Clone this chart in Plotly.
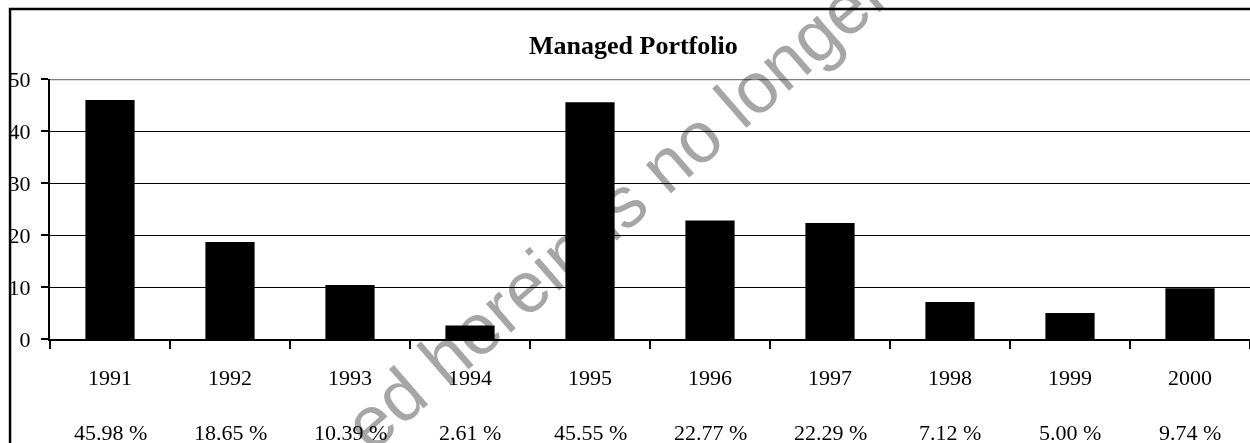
import plotly.graph_objects as go

# ---- data ----
years = ["1991", "1992", "1993", "1994", "1995", "1996", "1997", "1998", "1999", "2000"]
returns = [45.98, 18.65, 10.39, 2.61, 45.55, 22.77, 22.29, 7.12, 5.00, 9.74]
y_ticks = [0, 10, 20, 30, 40, 50]
title_text = "Managed Portfolio"
watermark_text = "ed herein is no longer"

pct_labels = [f"{v:.2f} %" for v in returns]

SERIF = "Liberation Serif, Times New Roman, serif"

fig = go.Figure(
    go.Bar(
        x=years,
        y=returns,
        width=0.41,
        marker=dict(color="black", line=dict(width=0)),
        hoverinfo="skip",
    )
)

fig.update_layout(
    width=1250,
    height=443,
    margin=dict(l=50, r=0, t=79, b=104),
    plot_bgcolor="white",
    paper_bgcolor="white",
    showlegend=False,
    font=dict(family=SERIF, size=22, color="black"),
)

fig.update_xaxes(
    type="category",
    range=[-0.5, len(years) - 0.5],
    autorange=False,
    showline=True,
    linecolor="black",
    linewidth=2,
    ticks="outside",
    tickson="boundaries",
    ticklen=8,
    tickwidth=2,
    tickcolor="black",
    showgrid=False,
    tickangle=0,
    ticklabelstandoff=18,
    tickfont=dict(family=SERIF, size=22, color="black"),
)

fig.update_yaxes(
    range=[0, 50],
    autorange=False,
    tickvals=y_ticks,
    showline=True,
    linecolor="black",
    linewidth=2,
    ticks="outside",
    ticklen=7,
    tickwidth=2,
    tickcolor="black",
    showgrid=True,
    gridcolor="black",
    gridwidth=1,
    zeroline=False,
    ticklabelstandoff=6,
    tickfont=dict(family=SERIF, size=22, color="black"),
)

annotations = []
# watermark (first so it can be blended)
annotations.append(dict(
    text=watermark_text, xref="paper", yref="paper", x=0.4717, y=0.504,
    xanchor="center", yanchor="middle", showarrow=False, textangle=-41,
    font=dict(family="Liberation Sans, Arial, sans-serif", size=72, color="#a6a6a6"),
))
# title
annotations.append(dict(
    text=f"<b>{title_text}</b>", xref="paper", yref="paper", x=0.486, y=1.127,
    xanchor="center", yanchor="middle", showarrow=False,
    font=dict(family=SERIF, size=26, color="black"),
))
# percentage labels under the years
for i, lab in enumerate(pct_labels):
    annotations.append(dict(
        text=lab, x=i, xref="x", yref="paper", y=-0.358,
        xanchor="center", yanchor="middle", showarrow=False,
        font=dict(family=SERIF, size=22, color="black"),
    ))
fig.update_layout(annotations=annotations)

# top border of the plot area (grey) and outer frame
fig.add_shape(type="line", xref="paper", yref="y", x0=0, x1=1, y0=50, y1=50,
              line=dict(color="#808080", width=2.5), layer="above")
fig.add_shape(type="rect", xref="paper", yref="paper", x0=-0.0333, x1=1.05,
              y0=-0.7, y1=1.269, line=dict(color="black", width=2.5),
              fillcolor="rgba(0,0,0,0)", layer="above")

post = (
    "document.body.style.margin='0';"
    "document.querySelectorAll('.main-svg').forEach(function(s){s.style.mixBlendMode='multiply';});"
    "var a=document.querySelector('.annotation[data-index=\"0\"]');"
    "if(a){a.style.mixBlendMode='multiply';}"
)

fig.write_html("out.html", config={"displayModeBar": False, "staticPlot": True}, post_script=post)
